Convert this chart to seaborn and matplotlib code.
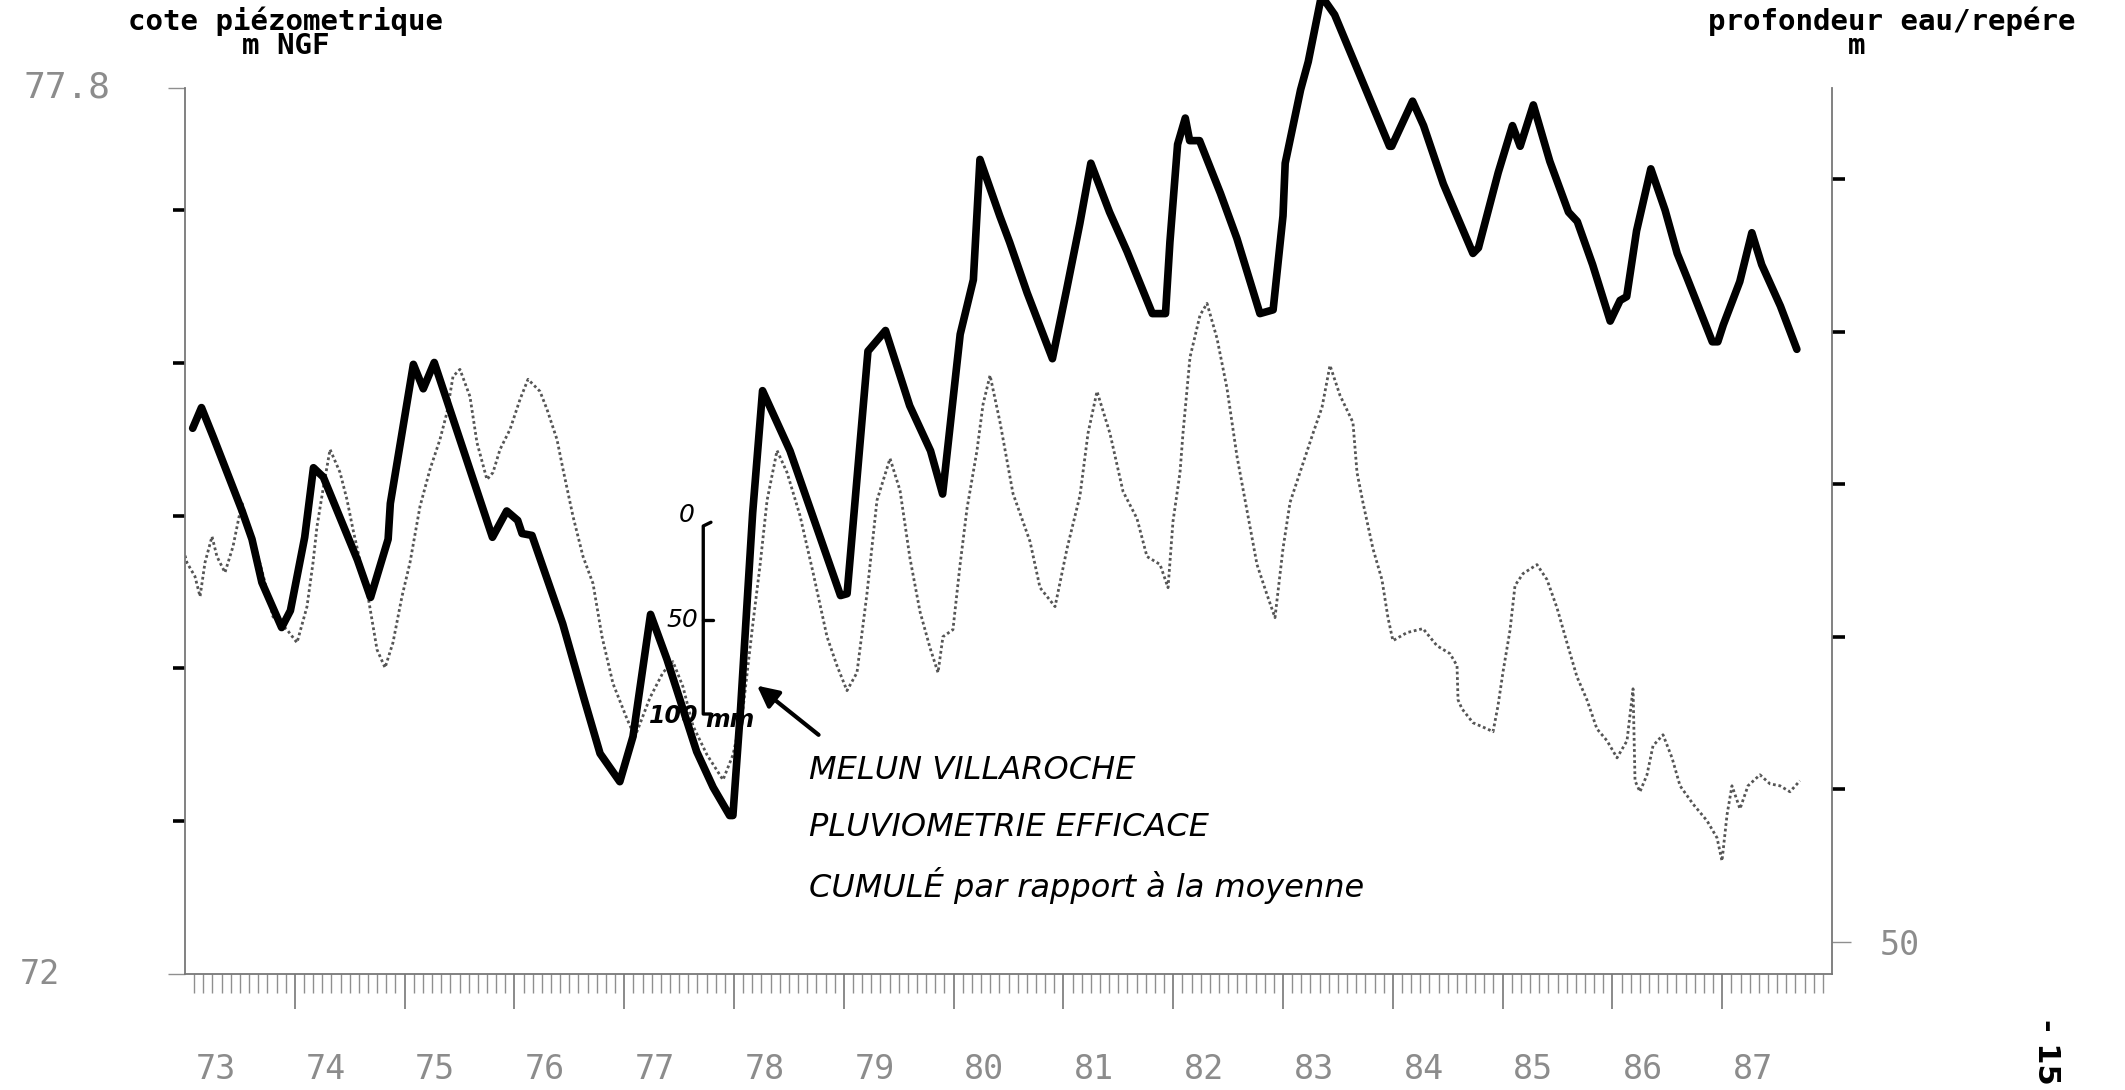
import matplotlib
matplotlib.use("Agg")
import matplotlib.pyplot as plt
import seaborn as sns

# Piezometric level (m NGF), computer-plotted record
piezo_year = [73.000, 73.018, 73.091, 73.137, 73.182, 73.246, 73.291, 73.364, 73.437, 73.519,
              73.574, 73.656, 73.729, 73.801, 73.929, 74.020, 74.111, 74.166, 74.202, 74.257,
              74.321, 74.412, 74.475, 74.530, 74.612, 74.667, 74.749, 74.822, 74.894, 74.976,
              75.049, 75.140, 75.231, 75.322, 75.386, 75.441, 75.504, 75.595, 75.659, 75.750,
              75.805, 75.869, 75.960, 76.051, 76.124, 76.233, 76.297, 76.388, 76.443, 76.534,
              76.625, 76.716, 76.798, 76.898, 77.025, 77.098, 77.235, 77.353, 77.444, 77.535,
              77.626, 77.754, 77.900, 77.991, 78.082, 78.173, 78.237, 78.301, 78.392, 78.483,
              78.601, 78.720, 78.847, 78.938, 79.029, 79.120, 79.211, 79.302, 79.421, 79.512,
              79.603, 79.694, 79.785, 79.858, 79.903, 79.994, 80.058, 80.122, 80.213, 80.268,
              80.332, 80.423, 80.541, 80.696, 80.787, 80.924, 81.033, 81.151, 81.224, 81.306,
              81.424, 81.543, 81.670, 81.761, 81.880, 81.953, 81.998, 82.062, 82.089, 82.153,
              82.244, 82.308, 82.399, 82.490, 82.581, 82.672, 82.763, 82.854, 82.927, 83.000,
              83.064, 83.155, 83.273, 83.355, 83.428, 83.519, 83.637, 83.674, 83.728, 83.819,
              83.901, 83.956, 84.001, 84.129, 84.275, 84.402, 84.521, 84.585, 84.594, 84.630,
              84.730, 84.858, 84.913, 84.958, 85.004, 85.067, 85.113, 85.186, 85.313, 85.404,
              85.495, 85.586, 85.677, 85.768, 85.859, 85.951, 86.042, 86.133, 86.188, 86.206,
              86.251, 86.315, 86.370, 86.461, 86.543, 86.616, 86.734, 86.862, 86.953, 86.998,
              87.044, 87.089, 87.162, 87.235, 87.344, 87.435, 87.526, 87.617, 87.708]
piezo_level = [74.739, 74.693, 74.602, 74.471, 74.693, 74.864, 74.733, 74.628, 74.798, 75.087,
               74.929, 74.759, 74.562, 74.339, 74.254, 74.169, 74.405, 74.693, 74.929, 75.172,
               75.434, 75.283, 75.106, 74.910, 74.647, 74.471, 74.123, 74.005, 74.169, 74.471,
               74.693, 75.060, 75.303, 75.499, 75.676, 75.912, 75.958, 75.781, 75.479, 75.237,
               75.283, 75.434, 75.565, 75.761, 75.893, 75.814, 75.696, 75.499, 75.303, 74.995,
               74.733, 74.556, 74.208, 73.901, 73.671, 73.553, 73.809, 73.973, 74.045, 73.881,
               73.625, 73.435, 73.271, 73.435, 73.737, 74.300, 74.674, 75.100, 75.427, 75.283,
               75.001, 74.628, 74.208, 74.018, 73.855, 73.973, 74.490, 75.100, 75.375, 75.165,
               74.720, 74.372, 74.136, 73.973, 74.208, 74.254, 74.674, 75.047, 75.427, 75.729,
               75.919, 75.611, 75.145, 74.831, 74.529, 74.405, 74.785, 75.132, 75.539, 75.814,
               75.539, 75.159, 74.982, 74.733, 74.681, 74.529, 74.962, 75.283, 75.539, 76.037,
               76.312, 76.390, 76.161, 75.834, 75.388, 75.034, 74.681, 74.484, 74.333, 74.785,
               75.087, 75.283, 75.539, 75.709, 75.984, 75.788, 75.611, 75.283, 75.087, 74.785,
               74.582, 74.333, 74.182, 74.235, 74.261, 74.149, 74.097, 74.018, 73.795, 73.736,
               73.645, 73.605, 73.586, 73.756, 73.979, 74.248, 74.543, 74.621, 74.680, 74.582,
               74.398, 74.169, 73.946, 73.795, 73.605, 73.527, 73.415, 73.527, 73.867, 73.265,
               73.193, 73.304, 73.494, 73.566, 73.415, 73.232, 73.113, 73.003, 72.891, 72.740,
               73.042, 73.232, 73.081, 73.232, 73.304, 73.245, 73.232, 73.193, 73.265]

# Cumulative effective rainfall at Melun-Villaroche, departure from the mean (mm)
rain_year = [73.07, 73.15, 73.26, 73.52, 73.61, 73.70, 73.88, 73.96, 74.09, 74.17,
             74.26, 74.57, 74.69, 74.85, 74.87, 75.08, 75.17, 75.27, 75.80, 75.93,
             76.03, 76.07, 76.16, 76.44, 76.63, 76.78, 76.96, 77.08, 77.24, 77.39,
             77.66, 77.81, 77.96, 77.99, 78.06, 78.12, 78.17, 78.26, 78.51, 78.97,
             79.03, 79.22, 79.38, 79.60, 79.79, 79.90, 80.06, 80.18, 80.24, 80.42,
             80.51, 80.67, 80.90, 81.03, 81.15, 81.25, 81.42, 81.58, 81.81, 81.93,
             81.97, 82.04, 82.11, 82.15, 82.24, 82.43, 82.58, 82.79, 82.91, 83.00,
             83.02, 83.16, 83.23, 83.35, 83.47, 83.97, 83.99, 84.18, 84.28, 84.46,
             84.54, 84.73, 84.78, 84.96, 85.09, 85.16, 85.28, 85.43, 85.60, 85.68,
             85.82, 85.98, 86.07, 86.13, 86.22, 86.35, 86.48, 86.59, 86.68, 86.91,
             86.96, 87.01, 87.16, 87.27, 87.36, 87.53, 87.68]
rain_mm = [52, 63, 47, 8, -7, -30, -54, -45, -6, 31,
           26, -18, -38, -7, 12, 86, 73, 87, -6, 8,
           3, -4, -5, -52, -91, -121, -136, -112, -47, -71,
           -120, -139, -154, -154, -97, -40, 7, 72, 40, -37,
           -36, 93, 104, 64, 40, 17, 102, 131, 195, 165,
           151, 124, 89, 126, 161, 193, 167, 146, 113, 113,
           151, 203, 217, 205, 205, 177, 153, 113, 115, 165,
           193, 232, 247, 282, 272, 202, 202, 226, 213, 182,
           171, 145, 148, 188, 213, 202, 224, 194, 167, 162,
           139, 109, 120, 122, 157, 190, 168, 145, 132, 98,
           98, 107, 130, 156, 139, 117, 94]

year_labels = ["73", "74", "75", "76", "77", "78", "79", "80",
               "81", "82", "83", "84", "85", "86", "87"]

annotation_lines = ["MELUN VILLAROCHE",
                    "PLUVIOMETRIE EFFICACE",
                    "CUMULÉ par rapport à la moyenne"]

sns.set_theme(style="white")
plt.rcParams["font.family"] = ["DejaVu Sans"]

W, H = 2125, 1090
fig = plt.figure(figsize=(W / 100, H / 100), dpi=100)
ax = fig.add_axes([185 / W, (H - 974) / H, (1832 - 185) / W, (974 - 88) / H])
ax.set_xlim(73, 88)
ax.set_ylim(72, 77.8)

tick_grey = "#8c8c8c"
mono = "DejaVu Sans Mono"

# piezometric record
sns.lineplot(x=piezo_year, y=piezo_level, ax=ax, color="#555555",
             linewidth=2.0, estimator=None, sort=False, legend=False)
ax.lines[-1].set_linestyle((0, (1, 1.0)))

# frame and ticks of the main axis
for side in ("top", "right"):
    ax.spines[side].set_visible(False)
for side in ("left", "bottom"):
    ax.spines[side].set_color("#777777")
    ax.spines[side].set_linewidth(1.3)
    ax.spines[side].set_linestyle((0, (1, 1)))

ax.set_xticks(range(74, 88))
ax.set_xticks([73 + m / 12 for m in range(1, 180)], minor=True)
ax.set_xticklabels([])
ax.tick_params(axis="x", which="major", length=25, width=1.2, color="#777777", direction="out", bottom=True)
ax.tick_params(axis="x", which="minor", length=14, width=1.0, color="#8f8f8f", direction="out", bottom=True)

ax.set_yticks([73, 74, 75, 76, 77])
ax.set_yticks([72, 77.8], minor=True)
ax.set_yticklabels([])
ax.set_yticklabels([], minor=True)
ax.tick_params(axis="y", which="major", length=9, width=2.6, color="black", direction="out", left=True)
ax.tick_params(axis="y", which="minor", length=12, width=1.0, color="#8f8f8f", direction="out", left=True)
ax.set_xlabel("")
ax.set_ylabel("")
ax.grid(False)

ytrans = ax.get_yaxis_transform()
ax.text(-0.0455, 77.8, "77.8", transform=ytrans, ha="right", va="center",
        fontsize=26, color=tick_grey, family=mono)
ax.text(-0.0759, 72.0, "72", transform=ytrans, ha="right", va="center",
        fontsize=24, color=tick_grey, family=mono)

xtrans = ax.get_xaxis_transform()
for i, lab in enumerate(year_labels):
    ax.text(73 + i + 0.28, -0.108, lab, transform=xtrans, ha="center", va="center",
            fontsize=24, color=tick_grey, family=mono)

# depth axis on the right
ax_r = ax.twinx()
ax_r.set_ylim(50.21, 44.40)
for side in ("top", "left", "bottom"):
    ax_r.spines[side].set_visible(False)
ax_r.spines["right"].set_color("#777777")
ax_r.spines["right"].set_linewidth(1.3)
ax_r.spines["right"].set_linestyle((0, (1, 1)))
ax_r.set_yticks([45, 46, 47, 48, 49])
ax_r.set_yticklabels([])
ax_r.set_yticks([50], minor=True)
ax_r.set_yticklabels(["50"], minor=True)
ax_r.tick_params(axis="y", which="major", length=9, width=2.6, color="black", direction="out", right=True)
ax_r.tick_params(axis="y", which="minor", length=14, width=1.0, color="#8f8f8f", direction="out",
                 right=True, labelsize=24, labelcolor=tick_grey, pad=20)
for lab in ax_r.get_yticklabels(minor=True):
    lab.set_family(mono)
ax_r.grid(False)

# rainfall overlay on its own mm scale
ax_mm = ax.twinx()
ax_mm.set_ylim(-238.3, 233.0)
ax_mm.axis("off")
sns.lineplot(x=rain_year, y=rain_mm, ax=ax_mm, color="black", linewidth=5.5,
             estimator=None, sort=False, legend=False)
ax_mm.lines[-1].set_clip_on(False)
ax_mm.lines[-1].set_solid_joinstyle("round")
ax_mm.lines[-1].set_solid_capstyle("round")

# scale bar 0-100 mm
bar_x = 77.72
hook = 0.07
ax_mm.plot([bar_x + hook, bar_x, bar_x, bar_x + hook], [2, 0, -100, -100],
           color="black", lw=2.4, solid_joinstyle="round")
ax_mm.plot([bar_x, bar_x + 0.09], [-50, -50], color="black", lw=2.4)
hand = dict(color="black", style="italic", family="DejaVu Sans")
ax_mm.text(77.57, 6, "0", ha="center", va="center", fontsize=18, **hand)
ax_mm.text(77.67, -50, "50", ha="right", va="center", fontsize=18, **hand)
ax_mm.text(77.68, -101, "100", ha="right", va="center", fontsize=17, weight="bold", **hand)
ax_mm.text(77.74, -103, "mm", ha="left", va="center", fontsize=17, weight="bold", **hand)

ax_mm.annotate("", xy=(78.19, -84), xytext=(78.79, -112),
               arrowprops=dict(arrowstyle="-|>", lw=3, color="black", mutation_scale=32))

for k, line in enumerate(annotation_lines):
    ax_mm.text(78.68, -130 - 30.5 * k, line, ha="left", va="center", fontsize=23, **hand)

# axis titles
fig.text(286 / W, 1 - 6 / H, "cote piézometrique\nm NGF", ha="center", va="top",
         multialignment="center", linespacing=0.82,
         fontsize=21, weight="bold", family=mono, color="black")
fig.text(1892 / W, 1 - 6 / H, "profondeur eau/repére\nm    ", ha="center", va="top",
         multialignment="center", linespacing=0.82,
         fontsize=21, weight="bold", family=mono, color="black")

fig.text(2046 / W, 1 - 1052 / H, "- 15", rotation=270, ha="center", va="center",
         fontsize=22, weight="bold", color="black")

fig.savefig("out.png", dpi=100)
